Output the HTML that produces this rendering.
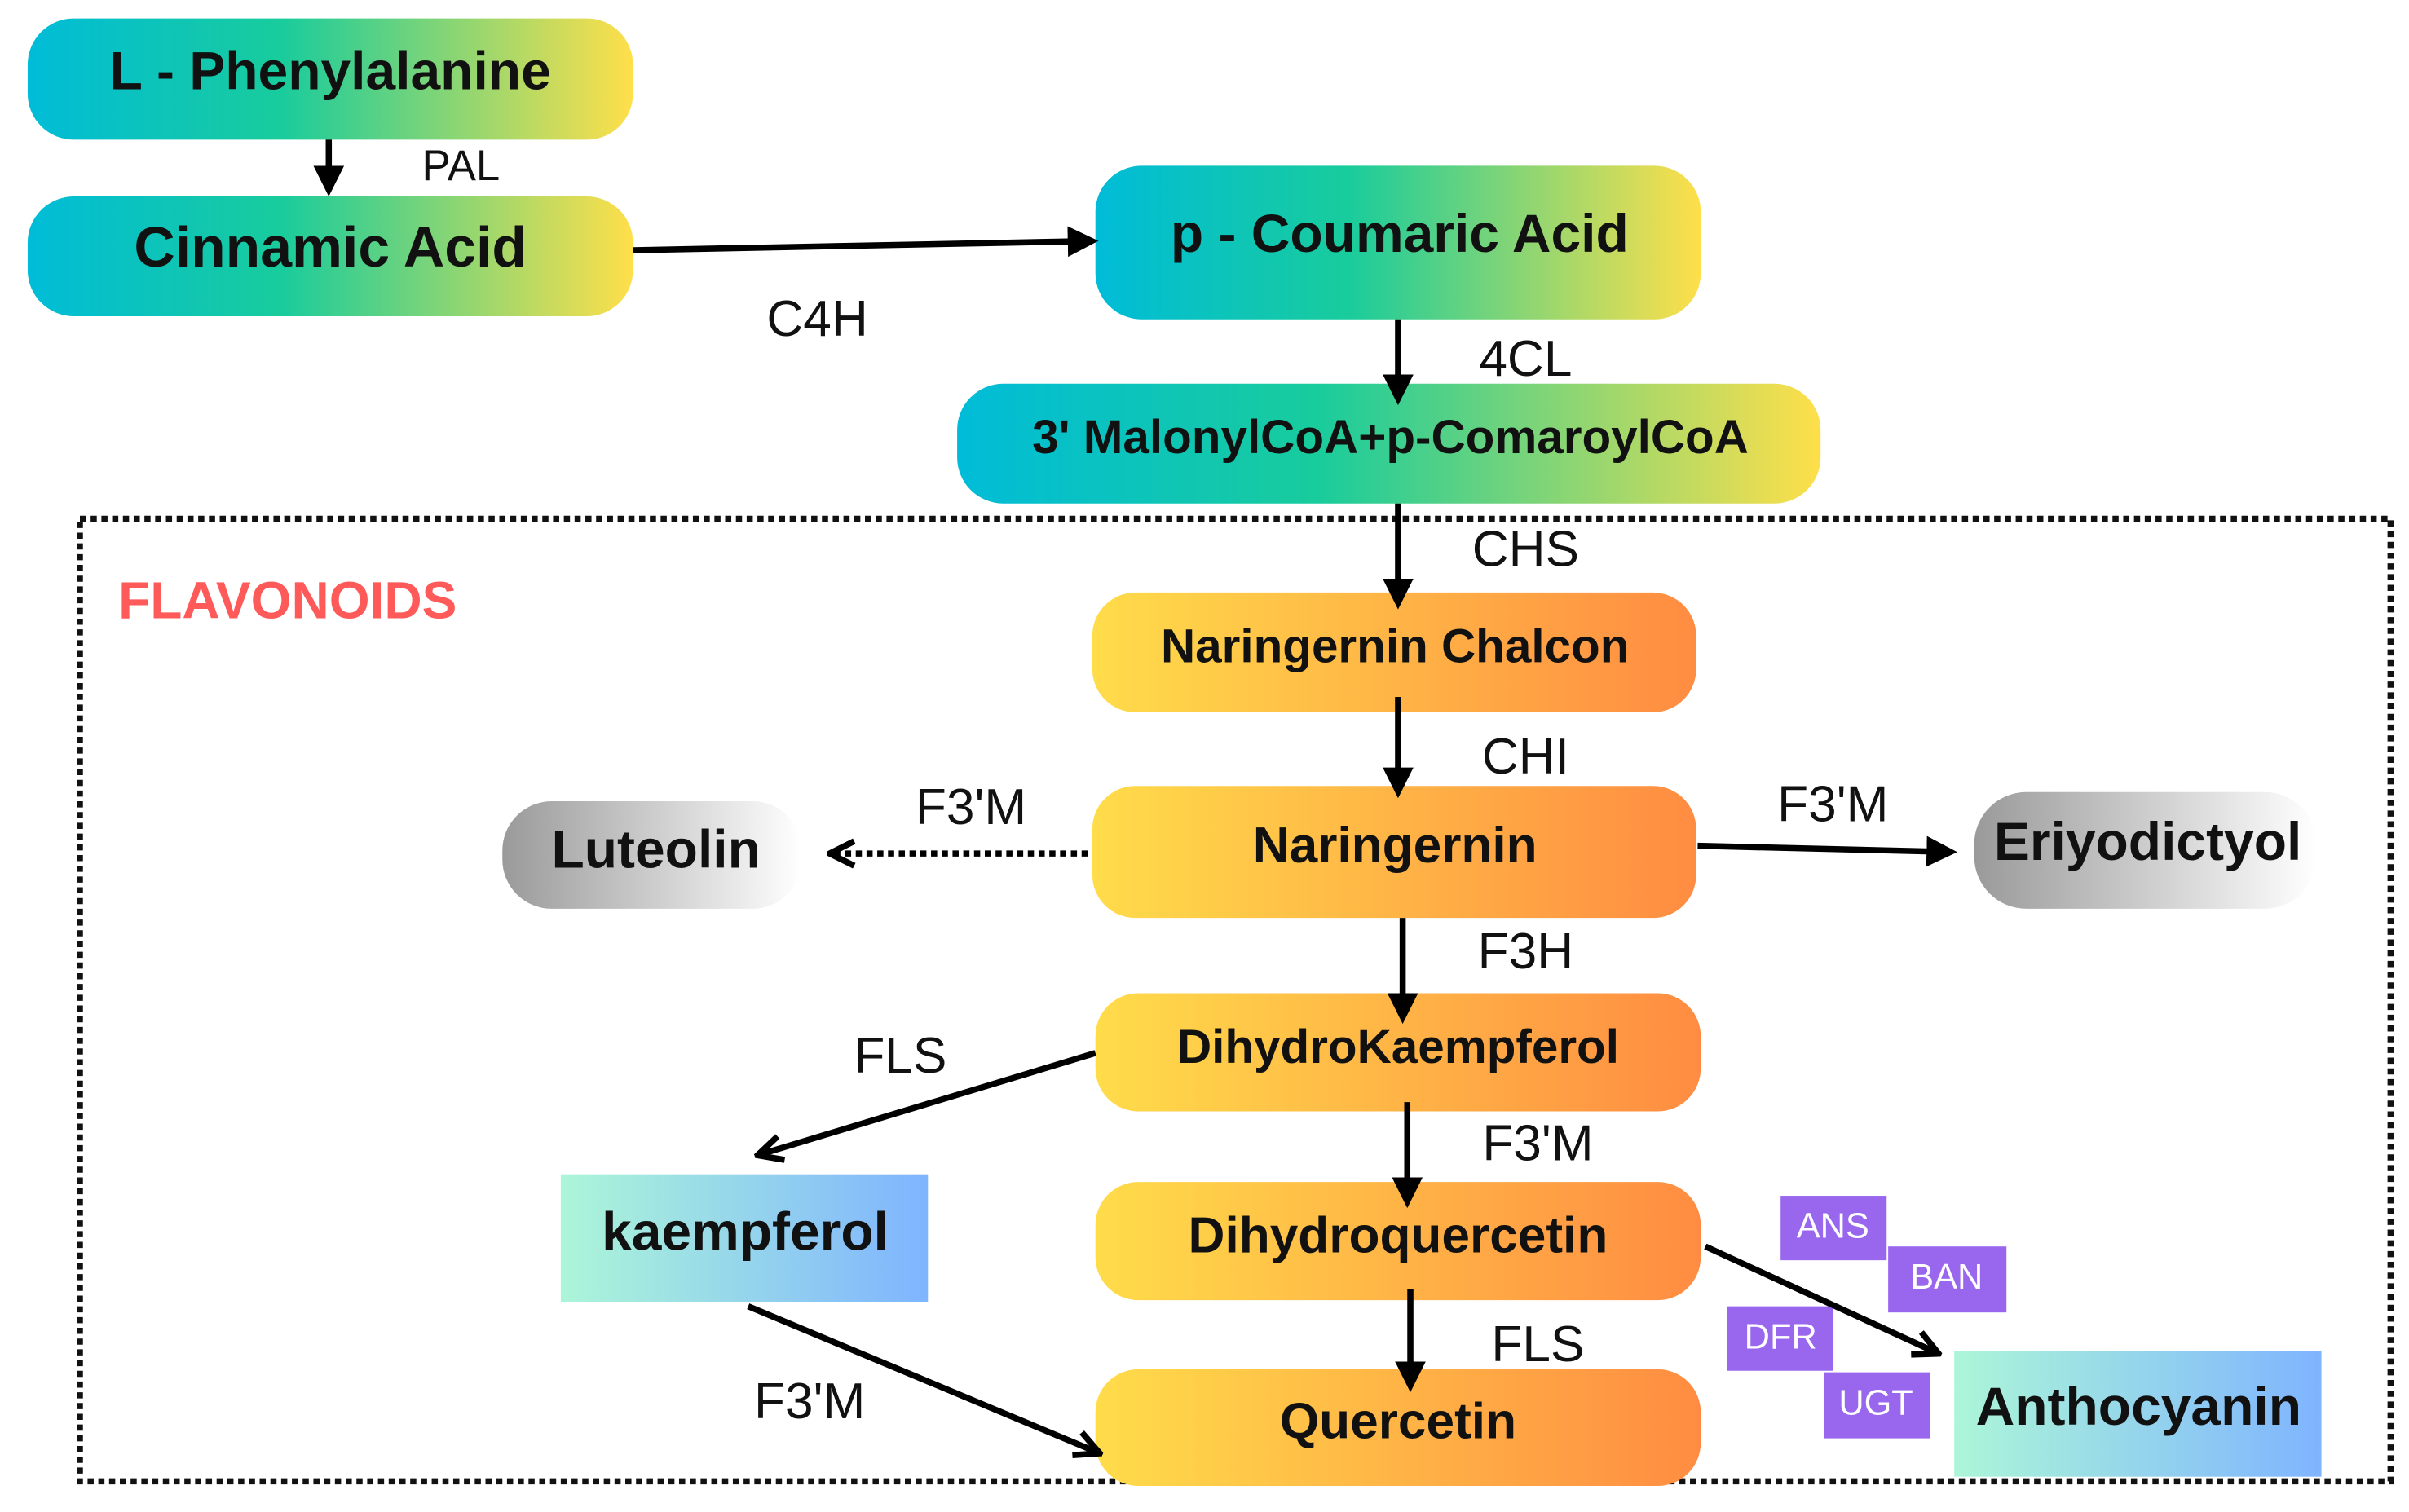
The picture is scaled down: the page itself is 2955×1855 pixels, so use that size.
<!DOCTYPE html>
<html><head><meta charset="utf-8"><style>
html,body{margin:0;padding:0;background:#fff;}
svg{display:block;}
text{font-family:"Liberation Sans",Arial,sans-serif;}
.n{font-weight:bold;font-size:35px;fill:#111;text-anchor:middle;dominant-baseline:central;}
.l{font-size:33px;fill:#111;text-anchor:middle;dominant-baseline:central;}
.p{font-size:23px;fill:#fff;text-anchor:middle;dominant-baseline:central;}
</style></head><body>
<svg width="2955" height="1855" viewBox="0 0 1568 985" preserveAspectRatio="none" xmlns="http://www.w3.org/2000/svg">
<defs>
<linearGradient id="bg" x1="0" x2="1" y1="0" y2="0"><stop offset="0" stop-color="#00bcd8"/><stop offset="0.42" stop-color="#19cc9c"/><stop offset="1" stop-color="#ffdf4a"/></linearGradient>
<linearGradient id="og" x1="0" x2="1" y1="0" y2="0"><stop offset="0" stop-color="#ffdc4a"/><stop offset="1" stop-color="#ff8c42"/></linearGradient>
<linearGradient id="gg" x1="0" x2="1" y1="0" y2="0"><stop offset="0" stop-color="#9a9a9a"/><stop offset="1" stop-color="#ffffff"/></linearGradient>
<linearGradient id="kg" x1="0" x2="1" y1="0" y2="0"><stop offset="0" stop-color="#acf6d8"/><stop offset="1" stop-color="#7fb4ff"/></linearGradient>
<marker id="a" viewBox="0 0 10 10" refX="8" refY="5" markerWidth="5" markerHeight="5" orient="auto"><path d="M0,0 L10,5 L0,10 z" fill="#000"/></marker>
<marker id="o" viewBox="0 0 10 10" refX="8" refY="5" markerWidth="5" markerHeight="5" orient="auto"><path d="M1,1 L9,5 L1,9" fill="none" stroke="#000" stroke-width="2"/></marker>
</defs>
<rect x="52" y="338" width="1504" height="627" fill="none" stroke="#111" stroke-width="4" stroke-dasharray="4,3"/>
<text x="77" y="391" font-size="34" font-weight="bold" fill="#ff5a5a" dominant-baseline="central">FLAVONOIDS</text>

<rect x="18" y="12" width="394" height="79" rx="30" fill="url(#bg)"/>
<text class="n" x="215" y="46">L - Phenylalanine</text>
<rect x="18" y="128" width="394" height="78" rx="30" fill="url(#bg)"/>
<text class="n" x="215" y="161" style="font-size:37px">Cinnamic Acid</text>
<rect x="713" y="108" width="394" height="100" rx="30" fill="url(#bg)"/>
<text class="n" x="911" y="152">p - Coumaric Acid</text>
<rect x="623" y="250" width="562" height="78" rx="30" fill="url(#bg)"/>
<text class="n" x="905" y="285" style="font-size:31px">3' MalonylCoA+p-ComaroylCoA</text>

<rect x="711" y="386" width="393" height="78" rx="28" fill="url(#og)"/>
<text class="n" x="908" y="421" style="font-size:31px">Naringernin Chalcon</text>
<rect x="711" y="512" width="393" height="86" rx="28" fill="url(#og)"/>
<text class="n" x="908" y="551" style="font-size:33px">Naringernin</text>
<rect x="713" y="647" width="394" height="77" rx="28" fill="url(#og)"/>
<text class="n" x="910" y="682" style="font-size:31px">DihydroKaempferol</text>
<rect x="713" y="770" width="394" height="77" rx="28" fill="url(#og)"/>
<text class="n" x="910" y="805" style="font-size:33px">Dihydroquercetin</text>
<rect x="713" y="892" width="394" height="76" rx="28" fill="url(#og)"/>
<text class="n" x="910" y="926" style="font-size:33px">Quercetin</text>

<rect x="327" y="522" width="195" height="70" rx="32" fill="url(#gg)"/>
<text class="n" x="427" y="553">Luteolin</text>
<rect x="1285" y="516" width="223" height="76" rx="34" fill="url(#gg)"/>
<text class="n" x="1398" y="548">Eriyodictyol</text>
<rect x="365" y="765" width="239" height="83" fill="url(#kg)"/>
<text class="n" x="485" y="802">kaempferol</text>
<rect x="1272" y="880" width="239" height="82" fill="url(#kg)"/>
<text class="n" x="1392" y="916">Anthocyanin</text>

<rect x="1159" y="779" width="69" height="42" fill="#9966ee"/><text class="p" x="1193" y="799">ANS</text>
<rect x="1229" y="812" width="77" height="43" fill="#9966ee"/><text class="p" x="1267" y="832">BAN</text>
<rect x="1124" y="851" width="69" height="42" fill="#9966ee"/><text class="p" x="1159" y="871">DFR</text>
<rect x="1187" y="894" width="69" height="43" fill="#9966ee"/><text class="p" x="1221" y="914">UGT</text>

<g stroke="#000" stroke-width="4" fill="none">
<line x1="214" y1="91" x2="214" y2="124" marker-end="url(#a)"/>
<line x1="412" y1="163" x2="711" y2="157" marker-end="url(#a)"/>
<line x1="910" y1="208" x2="910" y2="260" marker-end="url(#a)"/>
<line x1="910" y1="328" x2="910" y2="393" marker-end="url(#a)"/>
<line x1="910" y1="454" x2="910" y2="516" marker-end="url(#a)"/>
<line x1="708" y1="556" x2="542" y2="556" stroke-dasharray="4,3" marker-end="url(#o)"/>
<line x1="1105" y1="551" x2="1270" y2="555" marker-end="url(#a)"/>
<line x1="913" y1="598" x2="913" y2="663" marker-end="url(#a)"/>
<line x1="713" y1="686" x2="495" y2="752" marker-end="url(#o)"/>
<line x1="916" y1="718" x2="916" y2="783" marker-end="url(#a)"/>
<line x1="918" y1="840" x2="918" y2="903" marker-end="url(#a)"/>
<line x1="487" y1="851" x2="714" y2="946" marker-end="url(#o)"/>
<line x1="1110" y1="812" x2="1260" y2="881" marker-end="url(#o)"/>
</g>

<text class="l" x="300" y="108" style="font-size:28px">PAL</text>
<text class="l" x="532" y="208">C4H</text>
<text class="l" x="993" y="234">4CL</text>
<text class="l" x="993" y="358">CHS</text>
<text class="l" x="993" y="493">CHI</text>
<text class="l" x="632" y="526">F3'M</text>
<text class="l" x="1193" y="524">F3'M</text>
<text class="l" x="993" y="620">F3H</text>
<text class="l" x="586" y="688">FLS</text>
<text class="l" x="1001" y="745">F3'M</text>
<text class="l" x="1001" y="876">FLS</text>
<text class="l" x="527" y="913">F3'M</text>
</svg>
</body></html>
